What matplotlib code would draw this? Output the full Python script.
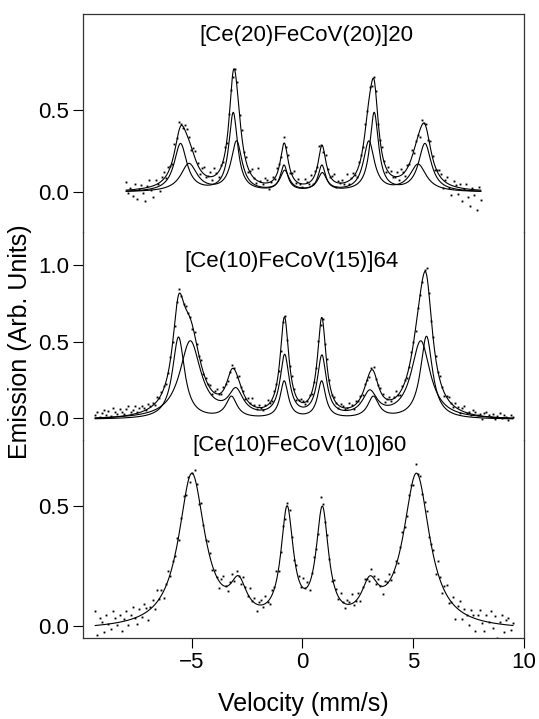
import numpy as np
import matplotlib.pyplot as plt

plt.rcParams['font.family'] = ['Liberation Sans', 'DejaVu Sans']

# fitted sub-spectra: line positions (mm/s), amplitudes, half widths
top_a_pos = [-5.50, -3.12, -0.83, 0.88, 3.24, 5.53]
top_a_amp = [0.291, 0.477, 0.155, 0.155, 0.477, 0.291]
top_a_wid = [0.35, 0.24, 0.20, 0.20, 0.24, 0.35]
top_b_pos = [-5.12, -2.97, -0.80, 0.90, 3.00, 5.22]
top_b_amp = [0.169, 0.303, 0.122, 0.107, 0.303, 0.165]
top_b_wid = [0.45, 0.30, 0.25, 0.25, 0.30, 0.45]

mid_a_pos = [-5.59, -3.20, -0.82, 0.87, 3.20, 5.60]
mid_a_amp = [0.535, 0.139, 0.242, 0.242, 0.139, 0.540]
mid_a_wid = [0.33, 0.30, 0.22, 0.22, 0.30, 0.33]
mid_b_pos = [-5.06, -3.00, -0.80, 0.88, 3.04, 5.34]
mid_b_amp = [0.504, 0.162, 0.398, 0.395, 0.159, 0.505]
mid_b_wid = [0.58, 0.40, 0.25, 0.25, 0.40, 0.52]
mid_base = -0.008

bot_pos = [-4.99, -2.88, -0.69, 0.90, 3.04, 5.15]
bot_amp = [0.644, 0.141, 0.467, 0.465, 0.140, 0.644]
bot_wid = [0.72, 0.45, 0.34, 0.34, 0.45, 0.72]
bot_base = -0.02

# velocity ranges of the measured points
top_range = (-7.95, 8.05)
mid_range = (-9.35, 9.5)
bot_range = (-9.35, 9.5)

# scatter of the measured points about the fit (hundredths)
r_top = [5, -2, 1, -4, 3, -6, 0, 2, -3, -8, 1, 4, -2, -7, 3, 0, -5, 2, 4, -1,
         3, 1, -2, 5, 2, 6, 1, -1, 3, 4, 2, -2, 3, 5, 1, -3, 2, 4, -1, 0,
         3, -2, 5, 1, -3, 2, 0, 4, -2, 3, 1, -4, 2, 6, 0, 3, -1, 2, -3, 1,
         4, 0, -2, 8, 1, -1, 3, 2, -4, 0, 2, -1, 3, 1, -2, 4, 0, 2, -3, 1,
         5, -1, 2, 0, -2, 3, 1, -1, 4, -3, 2, 0, 6, 1, -2, 3, 0, -1, 2, 4,
         -3, 1, 0, 2, -1, 5, -2, 1, 3, 0, -4, 2, 1, -1, 3, 0, 5, -2, 1, 2,
         -3, 0, 4, 1, -2, 3, 2, -1, 0, 3, -2, 4, 1, -3, 2, 0, 5, -1, 2, 1,
         -4, 3, 0, 2, -2, 4, 1, -3, 0, 3, 2, -5, 1, 4, -2, -6, 3, 1, -4, 2,
         -8, 0, 3, -5, -10, 1, -3, -12, 2, -6]
r_mid = [2, 4, 1, 3, 5, 2, 4, 1, 6, 3, 2, 5, 3, 1, 4, 6, 2, 3, 5, 1,
         3, 4, 2, 0, 3, 1, 2, -1, 3, 0, 1, 2, -1, 0, 2, 1, -2, 1, 3, 0,
         -1, 2, 0, 1, -2, 2, 1, 0, 3, -1, 1, 0, 2, -2, 1, 3, 0, -1, 2, 1,
         -1, 0, 2, 1, -2, 3, 0, 1, -1, 2, 0, 5, 1, -1, 2, 0, -2, 1, 3, 0,
         -1, 2, 1, 0, -2, 1, 2, 0, -1, 3, 1, -2, 0, 2, 1, -1, 0, 2, -1, 1,
         0, 3, -2, 1, 0, 6, 2, -1, 1, 0, -2, 2, 1, -1, 0, 3, 1, -2, 2, 0,
         1, -1, 2, 0, -2, 1, 3, -1, 0, 2, 1, -3, 0, 2, -1, 1, 4, 0, -2, 1,
         2, -1, 0, 3, 1, -2, 2, 0, -1, 1, 5, 0, -2, 2, 1, -1, 3, 0, -2, 1,
         2, 0, -1, 3, 1, -2, 2, 4, 0, 1, -1, 3, 2, 0, 1, -2, 2, 3, 1, 0,
         2, -1, 1, 3, 0, 2, 1, -1, 2, 1]
r_bot = [6, -4, 3, 1, -3, 4, 0, -2, 5, 2, -1, 3, -4, 1, 4, -2, 2, 5, 0, -3,
         3, -1, 4, 2, -4, 1, 3, -2, 5, 0, 2, -3, 1, 4, -1, 2, 0, 3, -3, 1,
         4, -1, 2, -3, 0, 3, 1, -2, 4, 0, -1, 3, 2, -2, 1, 0, -3, 2, 4, 0,
         -2, 1, 3, -1, 2, 0, -2, 3, 1, -1, 4, 0, 2, -3, 1, 2, -1, 3, 0, -2,
         2, 1, 4, -1, 0, 2, -3, 1, 3, 0, -2, 2, 1, -1, 4, 0, 2, -3, 1, 3,
         0, -2, 6, 1, -1, 2, 0, -3, 2, 1, -1, 3, 0, -2, 2, 1, 4, -1, 0, 2,
         -3, 1, 2, 0, -2, 3, 1, -1, 2, 0, -3, 2, 1, 3, -1, 0, 2, -2, 1, 3,
         0, -1, 2, 1, -3, 4, 0, 2, -1, 1, 3, -2, 0, 2, -4, 5, 1, -3, 2, 4,
         -2, 0, 3, -5, 1, 4, -3, 2, 0, -4, 3, 1, -5, 2, 4, -1, -4, 3, 0, 5,
         -2, 3, -6, 1, 4, -3, 2, 3, -2, 1]

titles = ['[Ce(20)FeCoV(20)]20', '[Ce(10)FeCoV(15)]64', '[Ce(10)FeCoV(10)]60']

def lor(x, p, w):
    return w**2 / ((x - p)**2 + w**2)

def sextet(x, pos, amp, wid, base=0.0):
    return sum(a * lor(x, p, w) for p, a, w in zip(pos, amp, wid)) + base

fig = plt.figure(figsize=(5.39, 7.19), dpi=100)
W, H = 539, 719
def box(y0, y1):
    return [83 / W, 1 - y1 / H, (524 - 83) / W, (y1 - y0) / H]

ax1 = fig.add_axes(box(14, 232))
ax2 = fig.add_axes(box(232, 440))
ax3 = fig.add_axes(box(440, 638))
for ax in (ax1, ax2, ax3):
    ax.set_facecolor('none')
    ax.set_xlim(-9.9, 10)
    ax.tick_params(direction='out', length=7, width=0.8, labelsize=16, pad=3)
    for s in ax.spines.values():
        s.set_linewidth(0.9)
        s.set_color('#333333')

ax1.set_ylim(-0.241, 1.083)
ax2.set_ylim(-0.1415, 1.215)
ax3.set_ylim(-0.0515, 0.777)
ax1.spines['bottom'].set_visible(False)
ax2.spines['bottom'].set_visible(False)
ax2.spines['top'].set_visible(False)
ax3.spines['top'].set_visible(False)
ax1.set_xticks([])
ax2.set_xticks([])
ax3.set_xticks([-5, 0, 5, 10])
ax1.set_yticks([0.0, 0.5]); ax1.set_yticklabels(['0.0', '0.5'])
ax2.set_yticks([0.0, 0.5, 1.0]); ax2.set_yticklabels(['0.0', '0.5', '1.0'])
ax3.set_yticks([0.0, 0.5]); ax3.set_yticklabels(['0.0', '0.5'])

lw = 0.8
dot = dict(ls='none', marker='s', ms=1.35, mew=0, color='black')

#top spectrum: two sextets and their sum
xf = np.linspace(*top_range, 800)
ya = sextet(xf, top_a_pos, top_a_amp, top_a_wid)
yb = sextet(xf, top_b_pos, top_b_amp, top_b_wid)
for y in (ya, yb, ya + yb):
    ax1.plot(xf, y, color='black', lw=lw)
xd = np.linspace(*top_range, len(r_top))
yd = sextet(xd, top_a_pos, top_a_amp, top_a_wid) + sextet(xd, top_b_pos, top_b_amp, top_b_wid)
ax1.plot(xd, yd + np.array(r_top) / 100, **dot)

#middle spectrum
xf = np.linspace(*mid_range, 800)
ya = sextet(xf, mid_a_pos, mid_a_amp, mid_a_wid, mid_base)
yb = sextet(xf, mid_b_pos, mid_b_amp, mid_b_wid, mid_base)
for y in (ya, yb, ya + yb):
    ax2.plot(xf, y, color='black', lw=lw)
xd = np.linspace(*mid_range, len(r_mid))
yd = (sextet(xd, mid_a_pos, mid_a_amp, mid_a_wid, mid_base)
      + sextet(xd, mid_b_pos, mid_b_amp, mid_b_wid, mid_base))
ax2.plot(xd, yd + np.array(r_mid) / 100, **dot)

#bottom spectrum: single fit
xf = np.linspace(*bot_range, 800)
ax3.plot(xf, sextet(xf, bot_pos, bot_amp, bot_wid, bot_base), color='black', lw=lw)
xd = np.linspace(*bot_range, len(r_bot))
yd = sextet(xd, bot_pos, bot_amp, bot_wid, bot_base)
ax3.plot(xd, yd + np.array(r_bot) / 100, **dot)

fig.text(306 / W, 1 - 36 / H, titles[0], ha='center', va='center', size=16)
fig.text(291 / W, 1 - 262 / H, titles[1], ha='center', va='center', size=16)
fig.text(300 / W, 1 - 446 / H, titles[2], ha='center', va='center', size=16)
fig.text(20 / W, 1 - 342 / H, 'Emission (Arb. Units)', rotation=90,
         ha='center', va='center', size=18)
fig.text(303 / W, 1 - 704 / H, 'Velocity (mm/s)', ha='center', va='center', size=18)

plt.savefig('out.png', dpi=100)
